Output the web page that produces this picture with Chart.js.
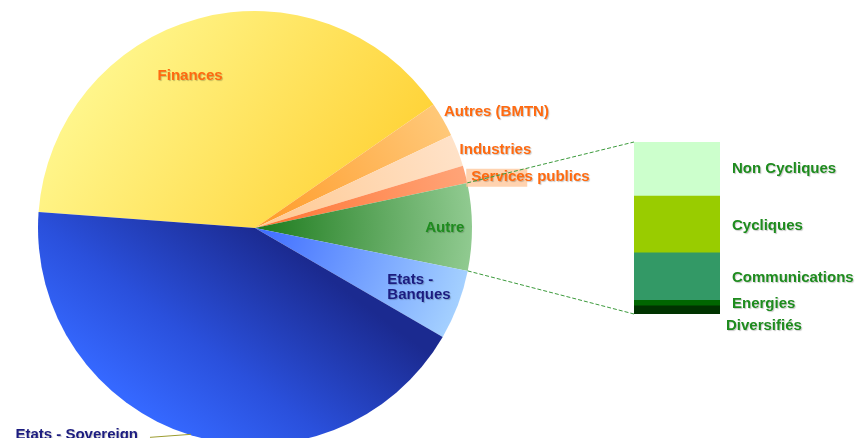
<!DOCTYPE html>
<html>
<head>
<meta charset="utf-8">
<script src="https://cdn.jsdelivr.net/npm/chart.js@4.4.1/dist/chart.umd.min.js"></script>
<style>
  html, body { margin: 0; padding: 0; width: 858px; height: 438px; overflow: hidden; background: #fff; }
  #pieBox { position: absolute; left: 0; top: 0; width: 858px; height: 460px; }
  #barBox { position: absolute; left: 620px; top: 130px; width: 238px; height: 210px; }
</style>
</head>
<body>
<div id="pieBox"><canvas id="pie"></canvas></div>
<div id="barBox"><canvas id="bar"></canvas></div>
<script>
// detail of "Autre" (bar, top to bottom)
const barLabels = ['Non Cycliques', 'Cycliques', 'Communications', 'Energies', 'Diversifiés'];
const barValues = [2.04, 2.15, 1.79, 0.21, 0.31];
const barColors = ['#ccffcc', '#99cc00', '#339966', '#006600', '#003300'];

const autreTotal = barValues.reduce((a, b) => a + b, 0);

// main pie (clockwise from Finances)
const pieLabels = ['Finances', 'Autres (BMTN)', 'Industries', 'Services publics', 'Autre', 'Etats - Banques', 'Etats - Sovereign'];
const pieValues = [39.2, 2.6, 2.4, 1.3, autreTotal, 5.2, 42.8];

const FONT = "bold 15px 'Liberation Sans', Arial, sans-serif";
const ORANGE = '#ff6a10';
const GREEN = '#1e8c1e';
const NAVY = '#1c1c80';

function withShadow(ctx) {
    ctx.shadowColor = 'rgba(0,0,0,0.22)';
    ctx.shadowOffsetX = 1;
    ctx.shadowOffsetY = 1;
    ctx.shadowBlur = 1;
}

// gradients for each slice, built around the pie centre
function sliceFill(context) {
    const chart = context.chart;
    const area = chart.chartArea;
    const flat = ['#ffe45a', '#ffb550', '#ffdcbc', '#ff9460', '#5ea85e', '#80b0ff', '#2444c8'];
    if (!area) return flat[context.dataIndex];
    const ctx = chart.ctx;
    const cx = (area.left + area.right) / 2;
    const cy = (area.top + area.bottom) / 2;
    const r = Math.min(area.width, area.height) / 2;
    let g;
    switch (context.dataIndex) {
        case 0:
            g = ctx.createLinearGradient(cx - 0.7 * r, cy - 0.9 * r, cx + 0.5 * r, cy - 0.1 * r);
            g.addColorStop(0, '#fff890');
            g.addColorStop(1, '#ffd43a');
            return g;
        case 1:
            g = ctx.createRadialGradient(cx, cy, 0, cx, cy, r);
            g.addColorStop(0, '#ff9a28');
            g.addColorStop(1, '#ffc878');
            return g;
        case 2:
            g = ctx.createRadialGradient(cx, cy, 0, cx, cy, r);
            g.addColorStop(0, '#ffc890');
            g.addColorStop(1, '#ffe2c8');
            return g;
        case 3:
            g = ctx.createRadialGradient(cx, cy, 0, cx, cy, r);
            g.addColorStop(0, '#ff7330');
            g.addColorStop(1, '#ffa478');
            return g;
        case 4:
            g = ctx.createRadialGradient(cx, cy, 0, cx, cy, r);
            g.addColorStop(0, '#1c7a1c');
            g.addColorStop(1, '#90ca90');
            return g;
        case 5:
            g = ctx.createRadialGradient(cx, cy, 0, cx, cy, r);
            g.addColorStop(0, '#3d6bff');
            g.addColorStop(1, '#a4d0ff');
            return g;
        default:
            g = ctx.createLinearGradient(cx - 0.3 * r, cy + 1.0 * r, cx + 0.3 * r, cy + 0.2 * r);
            g.addColorStop(0, '#3568ff');
            g.addColorStop(0.4, '#2a50dc');
            g.addColorStop(1, '#1b2a90');
            return g;
    }
}

// labels next to the bar segments
const barLabelPlugin = {
    id: 'barLabels',
    afterDatasetsDraw(chart) {
        const ctx = chart.ctx;
        const nudge = { 'Non Cycliques': [0, -1], 'Diversifiés': [-6, 15] };
        ctx.save();
        ctx.font = FONT;
        ctx.fillStyle = GREEN;
        ctx.textAlign = 'left';
        ctx.textBaseline = 'alphabetic';
        withShadow(ctx);
        chart.data.datasets.forEach((ds, i) => {
            const el = chart.getDatasetMeta(i).data[0];
            const n = nudge[ds.label] || [0, 0];
            const yMid = (el.y + el.base) / 2;
            ctx.fillText(ds.label, chart.chartArea.right + 12 + n[0], yMid + 5.4 + n[1]);
        });
        ctx.restore();
    }
};

const barChart = new Chart(document.getElementById('bar'), {
    type: 'bar',
    data: {
        labels: ['Autre'],
        datasets: barLabels.map((l, i) => ({
            label: l,
            data: [barValues[i]],
            backgroundColor: barColors[i],
            borderWidth: 0
        })).reverse()
    },
    options: {
        responsive: true,
        maintainAspectRatio: false,
        animation: false,
        events: [],
        layout: { padding: { left: 14, top: 12, right: 138, bottom: 26 } },
        datasets: { bar: { barPercentage: 1, categoryPercentage: 1 } },
        scales: {
            x: { display: false, stacked: true },
            y: { display: false, stacked: true, min: 0, max: autreTotal }
        },
        plugins: { legend: { display: false }, tooltip: { enabled: false } }
    },
    plugins: [barLabelPlugin]
});

// pie labels, connector lines to the bar
const pieLabelPlugin = {
    id: 'pieLabels',
    afterDatasetsDraw(chart) {
        const ctx = chart.ctx;
        const arcs = chart.getDatasetMeta(0).data;
        const place = {
            'Finances': { r: 0.735, align: 'center', dx: -23, dy: 0, color: ORANGE },
            'Autres (BMTN)': { r: 1, align: 'left', dx: 1, dy: -9, color: ORANGE },
            'Industries': { r: 1, align: 'left', dx: 2, dy: -2, color: ORANGE },
            'Services publics': { r: 1, align: 'left', dx: 6, dy: 1, color: ORANGE, box: true },
            'Autre': { r: 0.875, align: 'center', dx: 0, dy: 0, color: GREEN },
            'Etats - Banques': { r: 0.81, align: 'left', dx: -32, dy: -12, color: NAVY, lines: ['Etats -', 'Banques'] }
        };
        ctx.save();
        ctx.font = FONT;
        ctx.textBaseline = 'alphabetic';
        arcs.forEach((arc, i) => {
            const name = pieLabels[i];
            const mid = (arc.startAngle + arc.endAngle) / 2;
            const R = arc.outerRadius;
            if (name === 'Etats - Sovereign') {
                const ex = arc.x + R * Math.cos(mid);
                const ey = arc.y + R * Math.sin(mid);
                ctx.save();
                ctx.strokeStyle = '#9c9c30';
                ctx.lineWidth = 1;
                ctx.beginPath();
                ctx.moveTo(ex, ey - 1);
                ctx.lineTo(ex - 41, ey + 2);
                ctx.stroke();
                ctx.restore();
                ctx.save();
                withShadow(ctx);
                ctx.fillStyle = NAVY;
                ctx.textAlign = 'right';
                ctx.fillText(name, ex - 53, ey - 2 + 5.4);
                ctx.restore();
                return;
            }
            const p = place[name];
            const x = arc.x + p.r * R * Math.cos(mid) + p.dx;
            const y = arc.y + p.r * R * Math.sin(mid) + p.dy;
            if (p.box) {
                ctx.fillStyle = 'rgba(255,196,150,0.75)';
                ctx.fillRect(x - 5, y - 6.5, 61, 18);
            }
            ctx.save();
            withShadow(ctx);
            ctx.fillStyle = p.color;
            ctx.textAlign = p.align;
            (p.lines || [name]).forEach((t, k) => ctx.fillText(t, x, y + 5.4 + k * 15));
            ctx.restore();
        });

        // dashed lines from the "Autre" slice to the bar
        const autre = arcs[pieLabels.indexOf('Autre')];
        const box = barChart.canvas.parentNode;
        const bx = box.offsetLeft + barChart.chartArea.left;
        const top = box.offsetTop + barChart.chartArea.top;
        const bottom = box.offsetTop + barChart.chartArea.bottom;
        const R = autre.outerRadius;
        ctx.strokeStyle = '#3c9a3c';
        ctx.lineWidth = 1;
        ctx.setLineDash([4, 2]);
        ctx.beginPath();
        ctx.moveTo(autre.x + R * Math.cos(autre.startAngle), autre.y + R * Math.sin(autre.startAngle));
        ctx.lineTo(bx, top);
        ctx.moveTo(autre.x + R * Math.cos(autre.endAngle), autre.y + R * Math.sin(autre.endAngle));
        ctx.lineTo(bx, bottom);
        ctx.stroke();
        ctx.restore();
    }
};

new Chart(document.getElementById('pie'), {
    type: 'pie',
    data: {
        labels: pieLabels,
        datasets: [{
            data: pieValues,
            backgroundColor: sliceFill,
            borderWidth: 0,
            hoverOffset: 0,
            hoverBorderWidth: 0
        }]
    },
    options: {
        responsive: true,
        maintainAspectRatio: false,
        animation: false,
        events: [],
        rotation: -85.8,
        radius: 217,
        layout: { padding: { left: 38, top: 11, right: 386, bottom: 15 } },
        plugins: { legend: { display: false }, tooltip: { enabled: false } }
    },
    plugins: [pieLabelPlugin]
});
</script>
</body>
</html>
